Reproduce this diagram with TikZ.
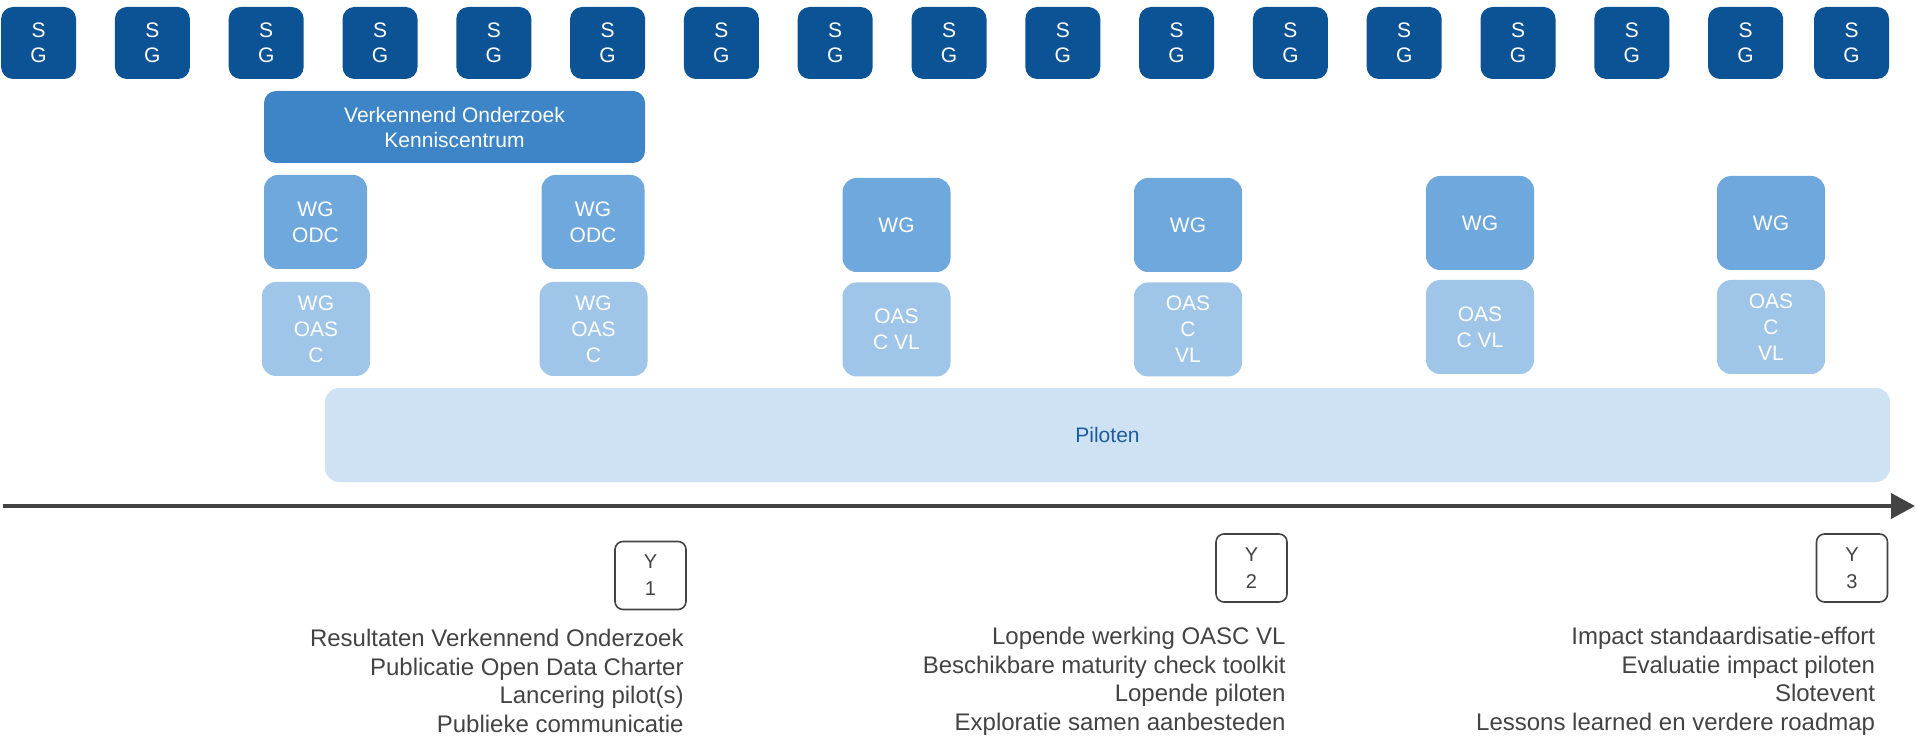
\documentclass[tikz,border=0pt]{standalone}
\usepackage{fontspec}
\setmainfont{Liberation Sans}
\usepackage{tikz}
\usetikzlibrary{arrows.meta}
\definecolor{sgblue}{HTML}{0B5394}
\definecolor{voblue}{HTML}{3D85C6}
\definecolor{wgblue}{HTML}{6FA8DC}
\definecolor{oasblue}{HTML}{9FC5E8}
\definecolor{pilotblue}{HTML}{CFE2F3}
\definecolor{pilottext}{HTML}{1A5CA0}
\definecolor{darkgrey}{HTML}{434343}
\tikzset{
	sgstyle/.style={rectangle,rounded corners=6pt,fill=sgblue,text=white,minimum width=37.5pt,minimum height=36pt,inner sep=0pt,align=center,font=\fontsize{10.5}{12.5}\selectfont},
	vostyle/.style={rectangle,rounded corners=6pt,fill=voblue,text=white,minimum width=190.5pt,minimum height=36pt,inner sep=0pt,align=center,font=\fontsize{10.5}{12.5}\selectfont},
	wgstyle/.style={rectangle,rounded corners=7pt,fill=wgblue,text=white,minimum width=54pt,minimum height=47pt,inner sep=0pt,align=center,font=\fontsize{10.5}{13}\selectfont},
	oasstyle/.style={rectangle,rounded corners=7pt,fill=oasblue,text=white,minimum width=54pt,minimum height=47pt,inner sep=0pt,align=center,font=\fontsize{10.5}{13}\selectfont},
	pilotstyle/.style={rectangle,rounded corners=7pt,fill=pilotblue,text=pilottext,minimum width=782.5pt,minimum height=47pt,inner sep=0pt,font=\fontsize{10.5}{13}\selectfont},
	yearstyle/.style={rectangle,rounded corners=4pt,draw=darkgrey,line width=0.8pt,fill=white,text=darkgrey,minimum width=35.5pt,minimum height=34pt,inner sep=0pt,align=center,font=\fontsize{10}{13.5}\selectfont},
	resultstyle/.style={inner sep=0pt,align=right,text=darkgrey,font=\fontsize{12}{14.25}\selectfont},
	axisstyle/.style={draw=darkgrey,line width=2pt,-{Triangle[length=12pt,width=12.5pt]}}
}
\begin{document}
\begin{tikzpicture}[x=0.5pt,y=-0.5pt]
		\useasboundingbox (0,0) rectangle (1915,737);
		\node[sgstyle] (sg1) at (38.6,43) {S\\G};
		\node[sgstyle] (sg2) at (152.4,43) {S\\G};
		\node[sgstyle] (sg3) at (266.2,43) {S\\G};
		\node[sgstyle] (sg4) at (380,43) {S\\G};
		\node[sgstyle] (sg5) at (493.8,43) {S\\G};
		\node[sgstyle] (sg6) at (607.6,43) {S\\G};
		\node[sgstyle] (sg7) at (721.4,43) {S\\G};
		\node[sgstyle] (sg8) at (835.2,43) {S\\G};
		\node[sgstyle] (sg9) at (949,43) {S\\G};
		\node[sgstyle] (sg10) at (1062.8,43) {S\\G};
		\node[sgstyle] (sg11) at (1176.6,43) {S\\G};
		\node[sgstyle] (sg12) at (1290.4,43) {S\\G};
		\node[sgstyle] (sg13) at (1404.2,43) {S\\G};
		\node[sgstyle] (sg14) at (1518,43) {S\\G};
		\node[sgstyle] (sg15) at (1631.8,43) {S\\G};
		\node[sgstyle] (sg16) at (1745.6,43) {S\\G};
		\node[sgstyle] (sg17) at (1851.5,43) {S\\G};
		\node[vostyle] (vo) at (454.5,127) {Verkennend Onderzoek\\Kenniscentrum};
		\node[wgstyle,minimum width=51.5pt] (wg1) at (315.5,222) {WG\\ODC};
		\node[wgstyle,minimum width=51.5pt] (wg2) at (593,222) {WG\\ODC};
		\node[wgstyle] (wg3) at (896.5,225) {WG};
		\node[wgstyle] (wg4) at (1188,225) {WG};
		\node[wgstyle] (wg5) at (1480,223) {WG};
		\node[wgstyle] (wg6) at (1771,223) {WG};
		\node[oasstyle] (oas1) at (316,329) {WG\\OAS\\C};
		\node[oasstyle] (oas2) at (593.5,329) {WG\\OAS\\C};
		\node[oasstyle] (oas3) at (896.5,329.5) {OAS\\C VL};
		\node[oasstyle] (oas4) at (1188,329.5) {OAS\\C\\VL};
		\node[oasstyle] (oas5) at (1480,327) {OAS\\C VL};
		\node[oasstyle] (oas6) at (1771,327) {OAS\\C\\VL};
		\node[pilotstyle] (pil) at (1107.5,435) {Piloten};
		\coordinate (t0) at (3,506);
		\coordinate (t1) at (1915,506);
		\draw[axisstyle] (t0)--(t1);
		\node[yearstyle] (y1) at (650.5,575.5) {Y\\1};
		\node[yearstyle] (y2) at (1251.5,568) {Y\\2};
		\node[yearstyle] (y3) at (1852,568) {Y\\3};
		\node[resultstyle,anchor=east] (r1) at (684,681) {Resultaten Verkennend Onderzoek\\Publicatie Open Data Charter\\Lancering pilot(s)\\Publieke communicatie};
		\node[resultstyle,anchor=east] (r2) at (1286,681.5) {Lopende werking OASC VL\\Beschikbare maturity check toolkit\\Lopende piloten\\Exploratie samen aanbesteden};
		\node[resultstyle,anchor=east] (r3) at (1875.5,681.5) {Impact standaardisatie-effort\\Evaluatie impact piloten\\Slotevent\\Lessons learned en verdere roadmap};
\end{tikzpicture}
\end{document}
